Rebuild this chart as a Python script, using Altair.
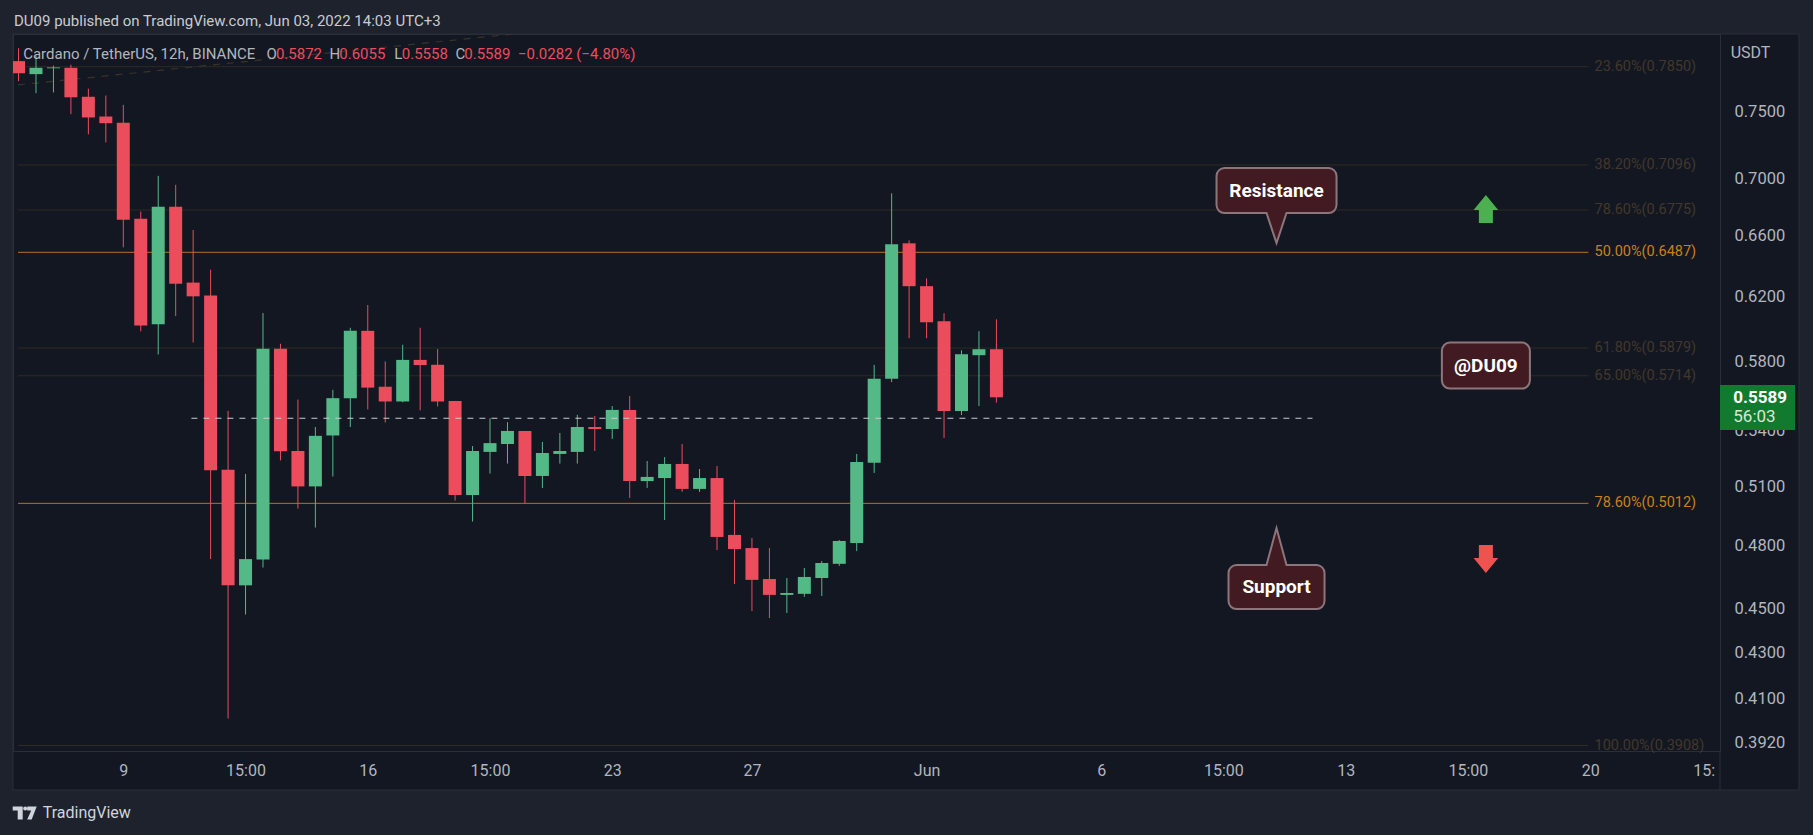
import altair as alt
import pandas as pd

# ---------------- data (12h candles, ADA/USDT, first bar = May 6 03:00 UTC+3) ----------------
opens = [0.7895, 0.7790, 0.7837, 0.7841, 0.7611, 0.7458, 0.7411, 0.6714, 0.6025, 0.6798,
         0.6288, 0.6205, 0.5188, 0.4607, 0.4731, 0.5875, 0.5289, 0.5100, 0.5374, 0.5584,
         0.5984, 0.5650, 0.5565, 0.5808, 0.5779, 0.5568, 0.5055, 0.5284, 0.5327, 0.5399,
         0.5155, 0.5273, 0.5284, 0.5421, 0.5410, 0.5517, 0.5128, 0.5144, 0.5219, 0.5087,
         0.5144, 0.4852, 0.4787, 0.4637, 0.4562, 0.4567, 0.4642, 0.4710, 0.4812, 0.5226,
         0.5696, 0.6547, 0.6265, 0.6043, 0.5511, 0.5836, 0.5872]
highs = [0.8000, 0.7950, 0.7858, 0.7866, 0.7674, 0.7621, 0.7548, 0.6764, 0.7017, 0.6953,
         0.6637, 0.6372, 0.5512, 0.5166, 0.6095, 0.5905, 0.5576, 0.5421, 0.5632, 0.6003,
         0.6145, 0.5799, 0.5899, 0.6003, 0.5873, 0.5568, 0.5316, 0.5470, 0.5448, 0.5399,
         0.5338, 0.5388, 0.5489, 0.5483, 0.5539, 0.5596, 0.5235, 0.5256, 0.5327, 0.5192,
         0.5208, 0.5029, 0.4837, 0.4787, 0.4642, 0.4690, 0.4724, 0.4827, 0.5273, 0.5778,
         0.6892, 0.6567, 0.6316, 0.6093, 0.5866, 0.5982, 0.6055]
lows = [0.7734, 0.7639, 0.7645, 0.7476, 0.7323, 0.7262, 0.6520, 0.5981, 0.5840, 0.6075,
        0.5913, 0.4733, 0.4018, 0.4471, 0.4692, 0.5238, 0.4985, 0.4889, 0.5152, 0.5421,
        0.5520, 0.5446, 0.5561, 0.5515, 0.5537, 0.5026, 0.4919, 0.5168, 0.5221, 0.5012,
        0.5092, 0.5221, 0.5221, 0.5289, 0.5355, 0.5040, 0.5092, 0.4927, 0.5071, 0.5071,
        0.4777, 0.4613, 0.4487, 0.4455, 0.4478, 0.4553, 0.4557, 0.4700, 0.4772, 0.5171,
        0.5677, 0.5939, 0.5939, 0.5360, 0.5488, 0.5539, 0.5558]
closes = [0.7797, 0.7841, 0.7844, 0.7607, 0.7451, 0.7407, 0.6708, 0.6017, 0.6798, 0.6280,
          0.6200, 0.5186, 0.4607, 0.4733, 0.5875, 0.5287, 0.5100, 0.5372, 0.5584, 0.5984,
          0.5645, 0.5565, 0.5808, 0.5777, 0.5565, 0.5055, 0.5289, 0.5332, 0.5399, 0.5155,
          0.5278, 0.5289, 0.5421, 0.5410, 0.5517, 0.5128, 0.5150, 0.5219, 0.5087, 0.5144,
          0.4842, 0.4782, 0.4633, 0.4562, 0.4571, 0.4647, 0.4714, 0.4822, 0.5230, 0.5696,
          0.6541, 0.6265, 0.6037, 0.5511, 0.5842, 0.5872, 0.5589]

time_ticks = [6, 13, 20, 27, 34, 42, 52, 62, 69, 76, 83, 90, 96.5]
time_labels = ["9", "15:00", "16", "15:00", "23", "27", "Jun", "6", "15:00", "13", "15:00", "20", "15:"]
price_ticks = [0.75, 0.70, 0.66, 0.62, 0.58, 0.54, 0.51, 0.48, 0.45, 0.43, 0.41, 0.392]

fib_pct = [23.6, 38.2, 78.6, 50.0, 61.8, 65.0, 78.6, 100.0]
fib_price = [0.7850, 0.7096, 0.6775, 0.6487, 0.5879, 0.5714, 0.5012, 0.3908]
key_levels = [0.6487, 0.5012]

pivot_price = 0.547
pivot_bars = [9.9, 74.1]
trend_bars = [-0.03, 28.94]
trend_prices = [0.7704, 0.8127]

callout_texts = ["Resistance", "Support", "@DU09"]
callout_bars = [72.04, 72.04, 84.03]
callout_prices = [0.6912, 0.4599, 0.5774]
arrow_bars = [84.03, 84.03]
arrow_prices = [0.6782, 0.4733]

last_price = 0.5589
countdown = "56:03"
header = "DU09 published on TradingView.com, Jun 03, 2022 14:03 UTC+3"
symbol_title = "Cardano / TetherUS, 12h, BINANCE"
ohlc_letters = ["O", "H", "L", "C"]
ohlc_values = ["0.5872", "0.6055", "0.5558", "0.5589"]
change_text = "\u22120.0282 (\u22124.80%)"

# ---------------- style / layout ----------------
FONT = "Roboto"
PANE = "#131722"
OUTER = "#1e222d"
BORDER = "#2a2e39"
UP = "#53b987"
DOWN = "#eb4d5c"
AXIS_TXT = "#b2b5be"
FIB_FAINT = "#2f2a23"
FIB_FAINT_TXT = "#41382b"
FIB_KEY = "#b8721a"
FIB_KEY_TXT = "#c98019"

W, H = 1707, 717
PL, PT = 13, 34
PR = 1813 - PL - W
PB = 835 - PT - H
FRAME_W, FRAME_H = 1786, 756

X_DOMAIN = [-0.03, 97.15]
Y_DOMAIN = [0.3886, 0.8118]
FIB_END = 89.9
FIB_LABEL_X = 90.25

xs = alt.Scale(domain=X_DOMAIN, nice=False, zero=False)
ys = alt.Scale(type="log", domain=Y_DOMAIN, nice=False, zero=False)

label_expr = " : ".join(f"datum.value == {v} ? '{t}'" for v, t in zip(time_ticks, time_labels)) + " : ''"

x_axis = alt.Axis(values=time_ticks, labelExpr=label_expr, labelFont=FONT, labelFontSize=16,
                  labelColor=AXIS_TXT, ticks=False, grid=False, domain=True, domainColor=BORDER,
                  labelPadding=19, labelBaseline="middle", labelOverlap=False, labelFlush=False)
y_axis = alt.Axis(orient="right", values=price_ticks, format=".4f", labelFont=FONT, labelFontSize=16.5,
                  labelColor=AXIS_TXT, ticks=False, grid=False, domain=True, domainColor=BORDER,
                  labelPadding=14, labelAlign="left", labelOverlap=False, labelFlush=False)


def X(field):
    return alt.X(field, type="quantitative", scale=xs, axis=x_axis, title=None)


def Y(field):
    return alt.Y(field, type="quantitative", scale=ys, axis=y_axis, title=None)


one = pd.DataFrame({"k": [0]})


def px_rect(x0, x1, y0, y1, **kw):
    return alt.Chart(one).mark_rect(**kw).encode(
        x=alt.value(x0), x2=alt.value(x1), y=alt.value(y0), y2=alt.value(y1))


def px_text(txt, x, y, **kw):
    opts = dict(align="left", baseline="alphabetic", font=FONT)
    opts.update(kw)
    return alt.Chart(one).mark_text(text=txt, **opts).encode(x=alt.value(x), y=alt.value(y))


def callout_path(w, h, r, ptr_len=0.0, ptr_half=0.0, up=False):
    u = w / 2.0
    hh, rr = h / 2.0 / u, r / u
    pl, ph = ptr_len / u, ptr_half / u
    f = lambda v: f"{v:.4f}"
    top = f"M{f(-1 + rr)},{f(-hh)} "
    if up and pl > 0:
        top += f"L{f(-ph)},{f(-hh)} L0,{f(-hh - pl)} L{f(ph)},{f(-hh)} "
    top += f"L{f(1 - rr)},{f(-hh)} A{f(rr)},{f(rr)} 0 0 1 1,{f(-hh + rr)} L1,{f(hh - rr)} "
    top += f"A{f(rr)},{f(rr)} 0 0 1 {f(1 - rr)},{f(hh)} "
    if (not up) and pl > 0:
        top += f"L{f(ph)},{f(hh)} L0,{f(hh + pl)} L{f(-ph)},{f(hh)} "
    top += f"L{f(-1 + rr)},{f(hh)} A{f(rr)},{f(rr)} 0 0 1 -1,{f(hh - rr)} L-1,{f(-hh + rr)} "
    top += f"A{f(rr)},{f(rr)} 0 0 1 {f(-1 + rr)},{f(-hh)} Z"
    return top


layers = []

# outer frame strips (published-image margin)
layers.append(px_rect(-PL, FRAME_W + 14, -PT, 0, color=OUTER))
layers.append(px_rect(-PL, 0, 0, FRAME_H + 45, color=OUTER))
layers.append(px_rect(FRAME_W, FRAME_W + 14, 0, FRAME_H + 45, color=OUTER))
layers.append(px_rect(0, FRAME_W, FRAME_H, FRAME_H + 45, color=OUTER))
layers.append(px_rect(0, FRAME_W, 0, FRAME_H, fillOpacity=0, stroke=BORDER, strokeWidth=1))
layers.append(alt.Chart(one).mark_rule(color=BORDER, strokeWidth=1).encode(
    x=alt.value(W), y=alt.value(H), y2=alt.value(FRAME_H)))

# fibonacci levels
fib = pd.DataFrame({"pct": fib_pct, "price": fib_price})
fib["label"] = [f"{p:.2f}%({v:.4f})" for p, v in zip(fib_pct, fib_price)]
fib["x0"] = X_DOMAIN[0]
fib["x1"] = FIB_END
fib["xl"] = FIB_LABEL_X
fib["key"] = fib["price"].isin(key_levels)
fib_faint = fib[~fib["key"]]
fib_key = fib[fib["key"]]

layers.append(alt.Chart(fib_faint).mark_rule(color=FIB_FAINT, strokeWidth=1).encode(
    x=X("x0"), x2="x1:Q", y=Y("price")))
layers.append(alt.Chart(fib_key).mark_rule(color=FIB_KEY, strokeWidth=1).encode(
    x=X("x0"), x2="x1:Q", y=Y("price")))

# dashed trend line of the fib tool
trend = pd.DataFrame({"x0": [trend_bars[0]], "x1": [trend_bars[1]],
                      "p0": [trend_prices[0]], "p1": [trend_prices[1]]})
layers.append(alt.Chart(trend).mark_rule(color="#3a3329", strokeWidth=1.2, strokeDash=[7, 7], clip=True).encode(
    x=X("x0"), x2="x1:Q", y=Y("p0"), y2="p1:Q"))

# candles
candles = pd.DataFrame({"b": list(range(len(opens))), "o": opens, "h": highs, "l": lows, "c": closes})
ccol = alt.condition("datum.c >= datum.o", alt.value(UP), alt.value(DOWN))
layers.append(alt.Chart(candles).mark_rule(strokeWidth=1, clip=True).encode(
    x=X("b"), y=Y("l"), y2="h:Q", color=ccol))
layers.append(alt.Chart(candles).mark_bar(size=13, clip=True, orient="vertical").encode(
    x=X("b"), y=Y("o"), y2="c:Q", color=ccol))

# horizontal dashed pivot line
piv = pd.DataFrame({"x0": [pivot_bars[0]], "x1": [pivot_bars[1]], "p": [pivot_price]})
layers.append(alt.Chart(piv).mark_rule(color="#c9ccd3", strokeWidth=1.2, strokeDash=[6, 6]).encode(
    x=X("x0"), x2="x1:Q", y=Y("p")))

# fib labels
layers.append(alt.Chart(fib_faint).mark_text(align="left", baseline="middle", font=FONT, fontSize=14.5,
                                             color=FIB_FAINT_TXT).encode(x=X("xl"), y=Y("price"), text="label:N"))
layers.append(alt.Chart(fib_key).mark_text(align="left", baseline="middle", font=FONT, fontSize=14.5,
                                           color=FIB_KEY_TXT).encode(x=X("xl"), y=Y("price"), text="label:N"))

# callouts
CALL_FILL = "#411b21"
CALL_STROKE = "#8d767b"
shapes = [
    (callout_path(120, 45, 8, 30, 10, up=False), 120),
    (callout_path(96, 44, 8, 37, 10, up=True), 96),
    (callout_path(88, 46, 8), 88),
]
for i, (path, w) in enumerate(shapes):
    d = pd.DataFrame({"b": [callout_bars[i]], "p": [callout_prices[i]], "t": [callout_texts[i]]})
    layers.append(alt.Chart(d).mark_point(shape=path, size=w * w, filled=True, fill=CALL_FILL,
                                          stroke=CALL_STROKE, strokeWidth=2, opacity=1).encode(
        x=X("b"), y=Y("p")))
    layers.append(alt.Chart(d).mark_text(font=FONT, fontSize=19, fontWeight="bold", color="#ffffff",
                                         align="center", baseline="middle").encode(
        x=X("b"), y=Y("p"), text="t:N"))

# arrows
up_arrow = "M0,-1 L0.88,0.071 L0.5,0.071 L0.5,1 L-0.5,1 L-0.5,0.071 L-0.88,0.071 Z"
down_arrow = "M0,1 L0.88,-0.071 L0.5,-0.071 L0.5,-1 L-0.5,-1 L-0.5,-0.071 L-0.88,-0.071 Z"
for i, (path, col) in enumerate([(up_arrow, "#4caf50"), (down_arrow, "#ef5350")]):
    d = pd.DataFrame({"b": [arrow_bars[i]], "p": [arrow_prices[i]]})
    layers.append(alt.Chart(d).mark_point(shape=path, size=784, filled=True, fill=col,
                                          strokeWidth=0, opacity=1).encode(x=X("b"), y=Y("p")))

# last price label on the price scale
layers.append(px_rect(W, W + 75, 351, 396, color="#117a2e"))
layers.append(px_text(f"{last_price:.4f}", W + 13.3, 364, baseline="middle", fontSize=17,
                      fontWeight="bold", color="#ffffff"))
layers.append(px_text(countdown, W + 13.3, 383, baseline="middle", fontSize=17, color="#d6e9da"))

# texts: header, legend, currency, footer
layers.append(px_text(header, 1, -8.3, fontSize=15, color="#c9cbd1"))
layers.append(px_text(symbol_title, 10.2, 25, fontSize=15, color=AXIS_TXT))
letter_x = [253.5, 316.5, 381.2, 442.4]
value_x = [262.9, 326.3, 388.8, 451.3]
for lx, vx, lt, vt in zip(letter_x, value_x, ohlc_letters, ohlc_values):
    layers.append(px_text(lt, lx, 25, fontSize=15, color=AXIS_TXT))
    layers.append(px_text(vt, vx, 25, fontSize=15, color=DOWN))
layers.append(px_text(change_text, 504.9, 25, fontSize=15, color=DOWN))
layers.append(px_text("USDT", 1717.7, 24, fontSize=16, color=AXIS_TXT))

logo = ("M-1,-0.542 L-0.167,-0.542 L-0.167,0.542 L-0.583,0.542 L-0.583,-0.208 L-1,-0.208 Z "
        "M-0.125,-0.375 A0.167,0.167 0 1 0 0.209,-0.375 A0.167,0.167 0 1 0 -0.125,-0.375 Z "
        "M0.208,-0.542 L1,-0.542 L0.583,0.542 L0.208,0.542 L0.542,-0.208 L0.208,-0.208 Z")
layers.append(alt.Chart(one).mark_point(shape=logo, size=576, filled=True, fill="#d1d4dc",
                                        strokeWidth=0, opacity=1).encode(x=alt.value(11.7), y=alt.value(779)))
layers.append(px_text("TradingView", 29.7, 784.3, fontSize=16, color="#d1d4dc"))

chart = alt.layer(*layers).properties(
    width=W, height=H, background=PANE,
    padding={"left": PL, "top": PT, "right": PR, "bottom": PB},
    autosize=alt.AutoSizeParams(type="none"),
).configure_view(fill=PANE, stroke=BORDER, strokeWidth=1)

chart.save("out.html", embed_options={"renderer": "svg", "actions": False})
